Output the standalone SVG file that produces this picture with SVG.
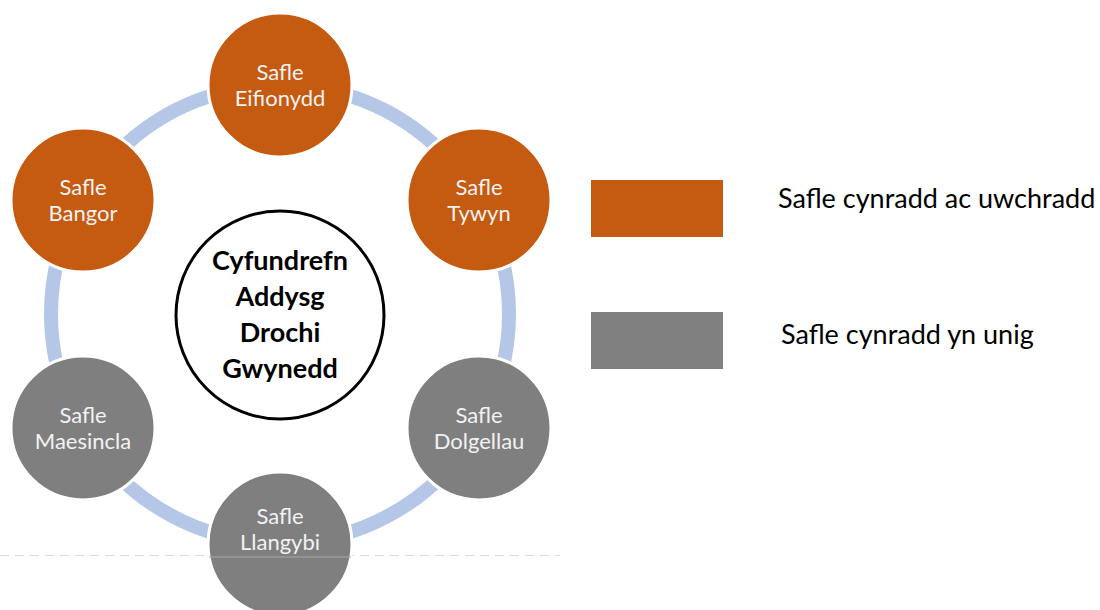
<svg xmlns="http://www.w3.org/2000/svg" width="1100" height="610" viewBox="0 0 1100 610">
<style>
.ring{fill:none;stroke:#b4c7e7;stroke-width:14}
.orange{fill:#c55a11;stroke:#ffffff;stroke-width:3}
.gray{fill:#7f7f7f;stroke:#ffffff;stroke-width:3}
.lbl{font-family:Lato,"Open Sans",sans-serif;font-size:22px;fill:#f2f2f2;text-anchor:middle}
.hub{font-family:Lato,"Open Sans",sans-serif;font-size:27px;font-weight:bold;fill:#000;text-anchor:middle}
.leg{font-family:Lato,"Open Sans",sans-serif;font-size:27px;fill:#000}
</style>
<rect width="1100" height="610" fill="#ffffff"/>
<g id="connectors">
<circle class="ring" cx="280" cy="314" r="229"/>
</g>
<line x1="0" y1="555.5" x2="560" y2="555.5" stroke="#d3dbea" stroke-width="1" stroke-dasharray="9 6"/>
<g id="node-eifionydd">
<circle class="orange" cx="280" cy="85" r="72"/>
<text class="lbl" x="280" y="80">Safle</text>
<text class="lbl" x="280" y="106">Eifionydd</text>
</g>
<g id="node-tywyn">
<circle class="orange" cx="479" cy="200" r="72"/>
<text class="lbl" x="479" y="195">Safle</text>
<text class="lbl" x="479" y="221">Tywyn</text>
</g>
<g id="node-bangor">
<circle class="orange" cx="83" cy="200" r="72"/>
<text class="lbl" x="83" y="195">Safle</text>
<text class="lbl" x="83" y="221">Bangor</text>
</g>
<g id="node-dolgellau">
<circle class="gray" cx="479" cy="428" r="72"/>
<text class="lbl" x="479" y="423">Safle</text>
<text class="lbl" x="479" y="449">Dolgellau</text>
</g>
<g id="node-maesincla">
<circle class="gray" cx="83" cy="428" r="72"/>
<text class="lbl" x="83" y="423">Safle</text>
<text class="lbl" x="83" y="449">Maesincla</text>
</g>
<g id="node-llangybi">
<circle class="gray" cx="280" cy="544" r="72"/>
<line x1="209" y1="557" x2="351" y2="557" stroke="#a8a8a8" stroke-width="1"/>
<text class="lbl" x="280" y="524">Safle</text>
<text class="lbl" x="280" y="550">Llangybi</text>
</g>
<g id="node-hub">
<circle cx="280" cy="315" r="104" fill="#ffffff" stroke="#000" stroke-width="3"/>
<text class="hub" x="280" y="270">Cyfundrefn</text>
<text class="hub" x="280" y="306">Addysg</text>
<text class="hub" x="280" y="342">Drochi</text>
<text class="hub" x="280" y="378">Gwynedd</text>
</g>
<g id="legend">
<rect x="591" y="180" width="132" height="57" fill="#c55a11"/>
<text class="leg" x="778" y="208">Safle cynradd ac uwchradd</text>
<rect x="591" y="312" width="132" height="57" fill="#808080"/>
<text class="leg" x="781" y="344">Safle cynradd yn unig</text>
</g>
</svg>
